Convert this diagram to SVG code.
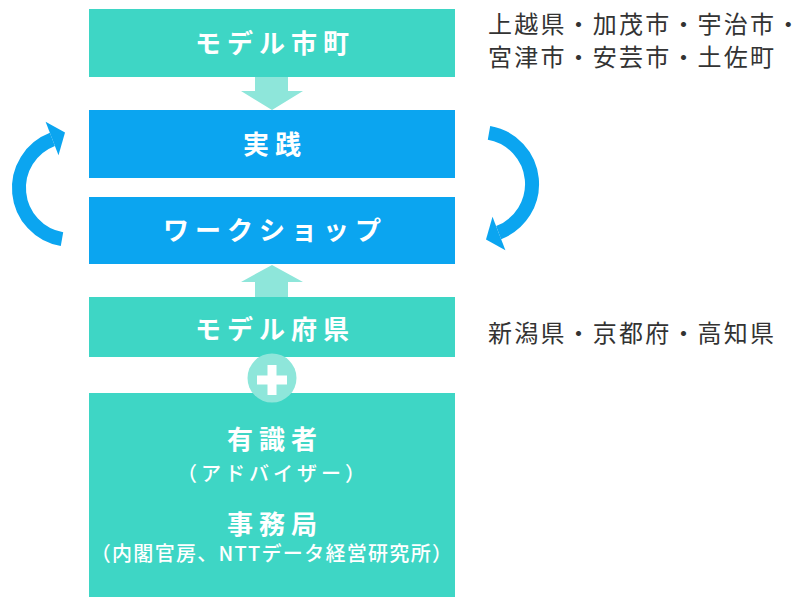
<svg xmlns="http://www.w3.org/2000/svg" width="803" height="597" viewBox="0 0 803 597">
  <defs>
    <style>
      .teal { fill: #3ED6C5; }
      .blue { fill: #0BA5F0; }
      .light { fill: #8EE6DA; }
      .lbl { font-family: "Noto Sans CJK JP", "Noto Sans", sans-serif; fill: #ffffff; font-weight: bold; text-anchor: middle; }
      .big { font-size: 26px; letter-spacing: 6px; }
      .small { font-size: 20px; letter-spacing: 4px; font-weight: 500; }
      .side { font-family: "Noto Sans CJK JP", "Noto Sans", sans-serif; fill: #333333; font-size: 24px; letter-spacing: 2.2px; }
      .cyc { fill: none; stroke: #0BA5F0; stroke-width: 14; }
      .cychead { fill: #0BA5F0; }
    </style>
    <g id="cycleArrow">
      <path class="cyc" d="M 62 239.2 A 52 52 0 0 1 52.4 139.4"/>
      <polygon class="cychead" points="45.6,121.7 65,132.5 58.5,155.3"/>
    </g>
  </defs>

  <g id="connectors">
    <polygon class="light" points="255,77 288,77 288,91 303,91 272,110 241,91 255,91"/>
    <polygon class="light" points="255,297 288,297 288,282 303,282 272,265 241,282 255,282"/>
    <use href="#cycleArrow"/>
    <use href="#cycleArrow" transform="rotate(180 275.5 186)"/>
  </g>

  <g id="model-cities">
    <rect class="teal" x="89" y="9" width="366" height="68"/>
    <text class="lbl big" x="275" y="53">モデル市町</text>
  </g>

  <g id="practice">
    <rect class="blue" x="89" y="110" width="366" height="68"/>
    <text class="lbl big" x="275" y="154">実践</text>
  </g>

  <g id="workshop">
    <rect class="blue" x="89" y="197" width="366" height="67"/>
    <text class="lbl big" x="275" y="240">ワークショップ</text>
  </g>

  <g id="model-prefs">
    <rect class="teal" x="89" y="297" width="366" height="60"/>
    <text class="lbl big" x="275" y="339">モデル府県</text>
  </g>

  <g id="experts">
    <rect class="teal" x="89" y="393" width="366" height="204"/>
    <text class="lbl big" x="275" y="449">有識者</text>
    <text class="lbl small" x="273" y="481">（アドバイザー）</text>
    <text class="lbl small" x="272" y="561" style="letter-spacing:1.3px">（内閣官房、NTTデータ経営研究所）</text>
    <text class="lbl big" x="275" y="534">事務局</text>
  </g>

  <g id="plus">
    <circle class="light" cx="272" cy="378" r="24.5"/>
    <rect x="257" y="375.5" width="30" height="9" fill="#ffffff"/>
    <rect x="267.5" y="365" width="9" height="30" fill="#ffffff"/>
  </g>

  <g id="city-list">
    <text class="side" x="488" y="33">上越県・加茂市・宇治市・</text>
    <text class="side" x="488" y="66">宮津市・安芸市・土佐町</text>
  </g>

  <g id="pref-list">
    <text class="side" x="488" y="342">新潟県・京都府・高知県</text>
  </g>
</svg>
